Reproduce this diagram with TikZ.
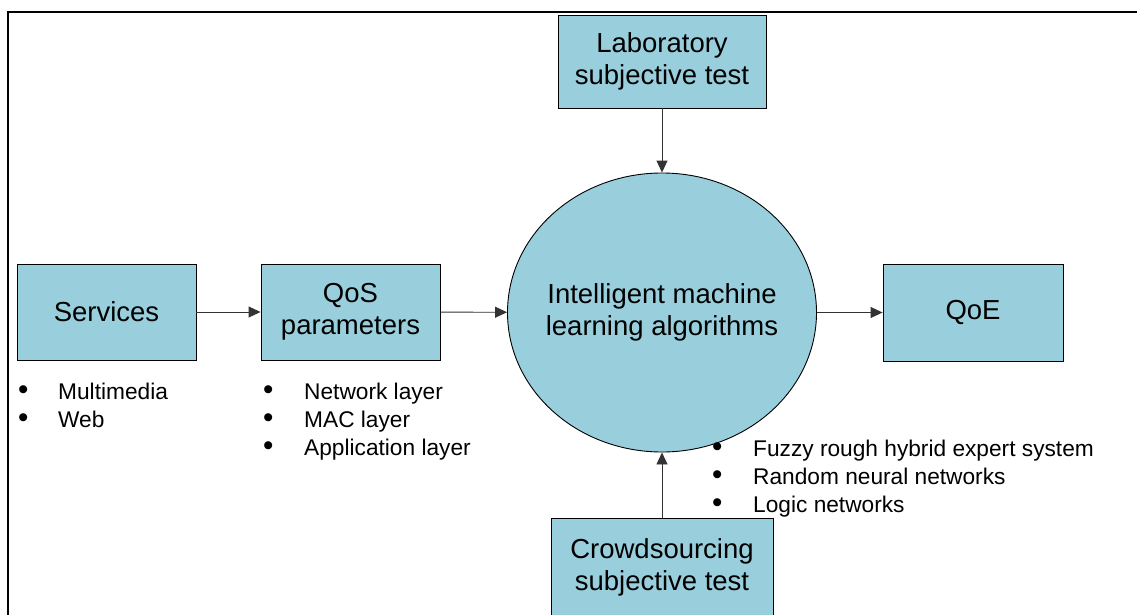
\documentclass[tikz,border=0pt]{standalone}
\usepackage{fontspec}
\usepackage{graphicx}
\setmainfont{Liberation Sans}
\usetikzlibrary{shapes.geometric,arrows.meta}
\definecolor{boxblue}{RGB}{153,207,221}
\newcommand{\bdot}{\raisebox{-0.8pt}{\scalebox{1.3}{\textbullet}}}
\tikzset{
  box/.style={draw=black, line width=0.9pt, fill=boxblue, inner sep=0pt, align=center,
    font=\fontsize{27.5}{32}\selectfont},
  conn/.style={draw=black!80, line width=0.9pt, -{Triangle[length=12pt,width=11pt]}},
  blist/.style={inner sep=0pt, anchor=base west, font=\fontsize{22.7}{28}\selectfont},
  ctext/.style={inner sep=0pt, align=center, font=\fontsize{27.5}{32}\selectfont}
}
\begin{document}
\begin{tikzpicture}[x=1pt,y=-1pt]
\useasboundingbox (0,0) rectangle (1137,615);
% frame
\draw[line width=2.2pt] (8,640) -- (8,12) -- (1160,12);
% nodes
\node[box, minimum width=179pt, minimum height=96pt] (svc) at (106.5,312) {Services};
\node[box, minimum width=179pt, minimum height=96pt] (qos) at (350.5,312) {QoS\\parameters};
\node[box, ellipse, minimum width=309pt, minimum height=279pt] (iml) at (662,312.5) {};
\node[ctext] (imltext) at (iml.center) {Intelligent machine\\learning algorithms};
\node[box, minimum width=180pt, minimum height=97pt] (qoe) at (973,312.5) {QoE};
\node[box, minimum width=208pt, minimum height=93pt] (lab) at (662,61.5) {Laboratory\\subjective test};
\node[box, minimum width=222pt, minimum height=98pt] (crowd) at (662,567) {Crowdsourcing\\subjective test};
% lists
\node[blist] (l1) at (18,399) {\begin{tabular}[t]{@{}p{40pt}@{}l@{}}\bdot & Multimedia\\ \bdot & Web\end{tabular}};
\node[blist] (l2) at (263,399) {\begin{tabular}[t]{@{}p{41pt}@{}l@{}}\bdot & Network layer\\ \bdot & MAC layer\\ \bdot & Application layer\end{tabular}};
\node[blist] (l3) at (712,456) {\begin{tabular}[t]{@{}p{41pt}@{}l@{}}\bdot & Fuzzy rough hybrid expert system\\ \bdot & Random neural networks\\ \bdot & Logic networks\end{tabular}};
% connectors
\draw[conn] (svc) -- (qos);
\draw[conn] (qos) -- (iml);
\draw[conn] (iml) -- (qoe);
\draw[conn] (lab) -- (iml);
\draw[conn] (crowd) -- (iml);
\end{tikzpicture}
\end{document}
